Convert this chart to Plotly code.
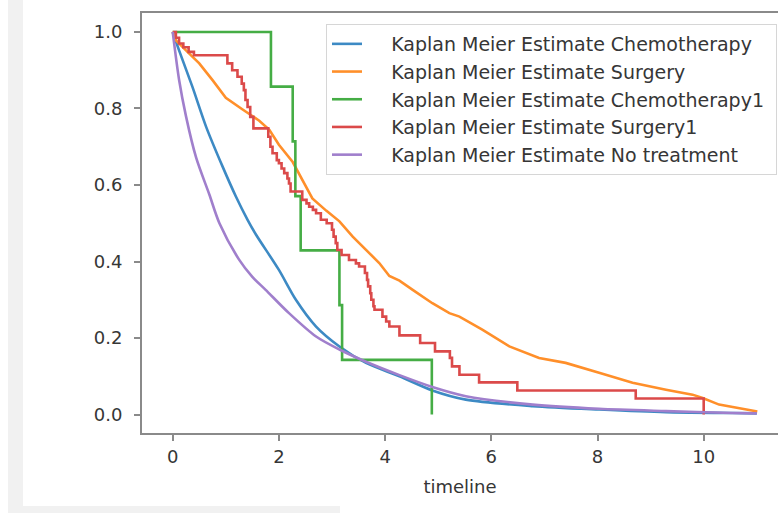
import plotly.graph_objects as go

# ---------------- data ----------------
chemo_t = [0, 0.12, 0.37, 0.63, 0.94, 1.19, 1.41, 1.57, 2.0, 2.32, 2.70, 3.14,
           3.64, 4.27, 4.89, 5.52, 6.78, 8.03, 9.29, 10.54, 11.0]
chemo_s = [1.0, 0.952, 0.857, 0.752, 0.648, 0.570, 0.509, 0.470, 0.378, 0.300,
           0.230, 0.178, 0.135, 0.100, 0.063, 0.039, 0.022, 0.013, 0.006, 0.004, 0.003]

surg_t = [0, 0.06, 0.25, 0.5, 0.75, 1.0, 1.31, 1.63, 1.82, 2.0, 2.26, 2.44, 2.63,
          2.89, 3.14, 3.39, 3.70, 3.89, 4.08, 4.27, 4.52, 4.89, 5.21, 5.40, 5.83,
          6.34, 6.90, 7.40, 8.03, 8.66, 9.29, 9.79, 9.98, 10.29, 11.01]
surg_s = [1.0, 0.978, 0.952, 0.918, 0.874, 0.828, 0.798, 0.768, 0.744, 0.705,
          0.660, 0.615, 0.565, 0.533, 0.505, 0.465, 0.422, 0.396, 0.362, 0.350,
          0.326, 0.291, 0.265, 0.256, 0.222, 0.178, 0.148, 0.135, 0.109, 0.083,
          0.065, 0.052, 0.043, 0.026, 0.008]

chemo1_t = [0, 1.85, 2.26, 2.31, 2.41, 3.14, 3.19, 4.88]
chemo1_s = [1.0, 0.857, 0.714, 0.571, 0.429, 0.286, 0.143, 0.0]

surg1_t = [0, 0.06, 0.12, 0.2, 0.3, 0.4, 1.03, 1.12, 1.22, 1.30, 1.34, 1.37, 1.41,
           1.46, 1.52, 1.80, 1.84, 1.88, 1.96, 2.0, 2.05, 2.10, 2.16, 2.19, 2.22,
           2.44, 2.52, 2.57, 2.64, 2.70, 2.79, 2.90, 3.00, 3.03, 3.07, 3.10, 3.18,
           3.32, 3.45, 3.51, 3.62, 3.66, 3.68, 3.72, 3.74, 3.78, 3.80, 3.95, 4.02,
           4.08, 4.27, 4.66, 4.94, 5.22, 5.26, 5.40, 5.77, 6.49, 8.72, 10.0]
surg1_s = [1.0, 0.985, 0.970, 0.960, 0.948, 0.939, 0.918, 0.900, 0.883, 0.865,
           0.848, 0.822, 0.804, 0.778, 0.748, 0.726, 0.700, 0.683, 0.665, 0.657,
           0.643, 0.631, 0.617, 0.604, 0.583, 0.561, 0.552, 0.543, 0.535, 0.526,
           0.509, 0.500, 0.483, 0.465, 0.448, 0.430, 0.417, 0.404, 0.395, 0.387,
           0.370, 0.352, 0.335, 0.317, 0.300, 0.283, 0.274, 0.256, 0.243, 0.230,
           0.207, 0.187, 0.165, 0.148, 0.126, 0.104, 0.084, 0.063, 0.042, 0.0]

none_t = [0, 0.12, 0.25, 0.44, 0.69, 0.88, 1.25, 1.50, 1.75, 2.19, 2.70, 3.14, 3.64,
          4.27, 4.89, 5.52, 6.78, 8.03, 9.29, 10.54, 11.0]
none_s = [1.0, 0.875, 0.780, 0.672, 0.575, 0.500, 0.405, 0.360, 0.326, 0.265, 0.204,
          0.170, 0.138, 0.103, 0.072, 0.048, 0.026, 0.015, 0.009, 0.004, 0.003]

names = ["Kaplan Meier Estimate Chemotherapy", "Kaplan Meier Estimate Surgery",
         "Kaplan Meier Estimate Chemotherapy1", "Kaplan Meier Estimate Surgery1",
         "Kaplan Meier Estimate No treatment"]
colors = ["#3d8ac4", "#ff8f2a", "#45ad45", "#db4a4a", "#a07fcc"]

x_ticks = [0, 2, 4, 6, 8, 10]
y_ticks = [0.0, 0.2, 0.4, 0.6, 0.8, 1.0]

series = [
    (chemo_t, chemo_s, "spline"),
    (surg_t, surg_s, "linear"),
    (chemo1_t, chemo1_s, "hv"),
    (surg1_t, surg1_s, "hv"),
    (none_t, none_s, "spline"),
]

NB = "\u00a0"
fig = go.Figure()
for (t, s, shape), name, col in zip(series, names, colors):
    line = dict(color=col, width=2.6, shape=shape)
    if shape == "spline":
        line["smoothing"] = 0.8
    fig.add_trace(go.Scatter(x=t, y=s, mode="lines", name=NB * 4 + name + NB,
                             line=line))

font_family = "DejaVu Sans"
text_col = "#363636"
axis_col = "#8a8a8a"

fig.update_layout(
    width=778, height=515,
    margin=dict(l=142, r=0, t=13, b=82, autoexpand=False),
    paper_bgcolor="white", plot_bgcolor="white",
    font=dict(family=font_family, size=18, color=text_col),
    showlegend=True,
    legend=dict(
        x=(777 - 142) / (778 - 142), xanchor="right",
        y=(433 - 24) / 420, yanchor="top",
        bgcolor="rgba(255,255,255,0.85)", bordercolor="#d6d6d6", borderwidth=1,
        font=dict(family=font_family, size=19, color=text_col),
        tracegroupgap=0,
    ),
    xaxis=dict(
        range=[-(172.7 - 142) / 53.1, (778 - 172.7) / 53.1],
        tickmode="array", tickvals=x_ticks, ticktext=[str(v) for v in x_ticks],
        showgrid=False, zeroline=False,
        showline=True, linecolor=axis_col, linewidth=2, mirror=True,
        ticks="outside", ticklen=6, tickwidth=1.5, tickcolor=axis_col,
        ticklabelstandoff=0,
        title=dict(text="timeline", standoff=15,
                   font=dict(family=font_family, size=18, color=text_col)),
    ),
    yaxis=dict(
        range=[-18.5 / 383.3, 1 + 19 / 383.3],
        tickmode="array", tickvals=y_ticks, ticktext=[f"{v:.1f}" for v in y_ticks],
        showgrid=False, zeroline=False,
        showline=True, linecolor=axis_col, linewidth=2, mirror=False,
        ticks="outside", ticklen=6, tickwidth=1.5, tickcolor=axis_col,
        ticklabelstandoff=8,
    ),
    shapes=[
        dict(type="rect", xref="paper", yref="paper", layer="below",
             x0=-134 / 636, x1=-119 / 636, y0=(433 - 512) / 420, y1=(433 - 0) / 420,
             fillcolor="#f1f1f1", line=dict(width=0)),
        dict(type="rect", xref="paper", yref="paper", layer="below",
             x0=-134 / 636, x1=(340 - 142) / 636, y0=(433 - 513) / 420, y1=(433 - 506) / 420,
             fillcolor="#f1f1f1", line=dict(width=0)),
    ],
)

fig.write_html("out.html", config={"displayModeBar": False})
